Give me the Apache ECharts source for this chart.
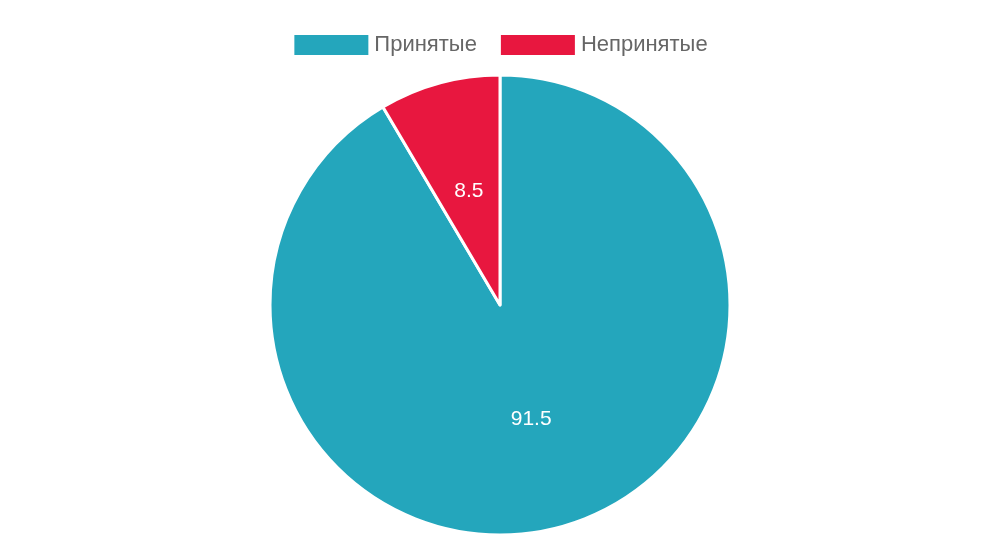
<!DOCTYPE html>
<html><head><meta charset="utf-8">
<script src="https://cdn.jsdelivr.net/npm/echarts@6/dist/echarts.min.js"></script>
<style>html,body{margin:0;padding:0}#c{width:1000px;height:540px}</style>
</head><body><div id="c"></div>
<script>
var categories = ['Принятые', 'Непринятые'];
var values = [91.5, 8.5];
var colors = ['#24a6bc', '#e8173f'];
var chart = echarts.init(document.getElementById('c'));
chart.setOption({
  textStyle: {fontFamily: 'Liberation Sans, Arial, sans-serif'},
  color: colors,
  legend: {top: 28, itemWidth: 76, itemHeight: 22, itemGap: 22,
    textStyle: {fontSize: 22, color: '#666'}, icon: 'rect', data: categories},
  series: [{
    type: 'pie', center: ['50%', '305'], radius: 230,
    startAngle: 90, clockwise: true,
    itemStyle: {borderColor: '#fff', borderWidth: 3},
    label: {position: 'inside', formatter: '{c}', color: '#fff', fontSize: 21},
    labelLine: {show: false},
    data: categories.map(function (n, i) { return {name: n, value: values[i]}; })
  }]
});
</script></body></html>
